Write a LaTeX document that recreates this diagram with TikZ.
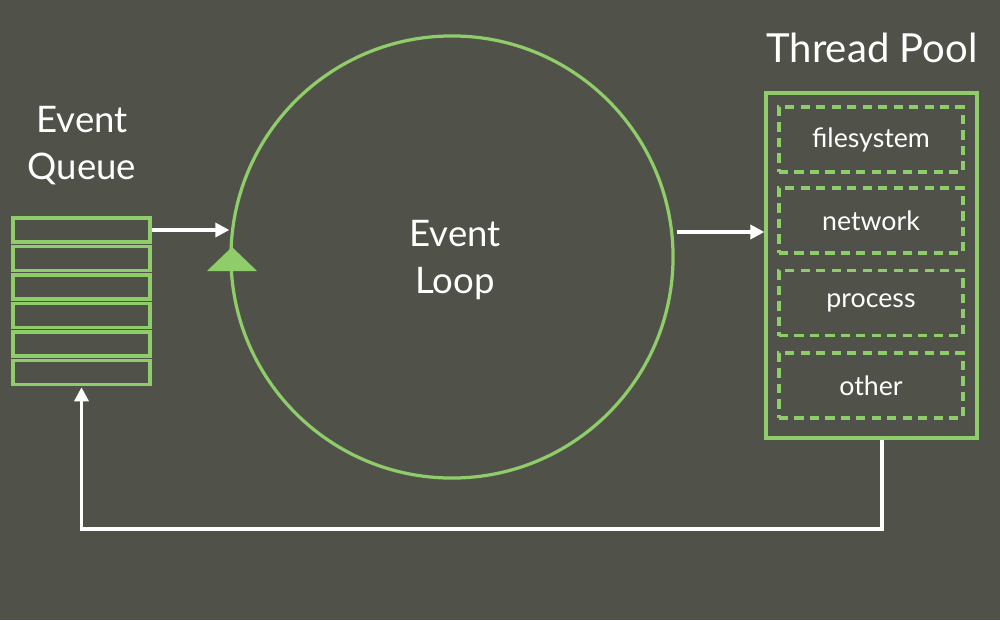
\documentclass[tikz,border=0pt]{standalone}
\usepackage{fontspec}
\setmainfont{Lato}
\usetikzlibrary{arrows.meta}
\definecolor{bg}{RGB}{80,82,73}
\definecolor{grn}{RGB}{143,204,106}
\tikzset{
  title/.style={text=white,font=\fontsize{26}{33.5}\selectfont,align=center,inner sep=0pt},
  lbl/.style={text=white,font=\fontsize{19}{22}\selectfont},
  qbox/.style={draw=grn,line width=2.3pt,minimum width=3.425cm,minimum height=0.6cm,inner sep=0pt},
  dbox/.style={draw=grn,line width=2.3pt,dash pattern=on 6.5pt off 4.5pt,minimum width=4.6cm,minimum height=1.625cm,inner sep=0pt},
  arr/.style={draw=white,line width=2.4pt,-{Triangle[length=10pt,width=10pt]}},
}
\begin{document}
\begin{tikzpicture}[x=0.025cm,y=-0.025cm]
\fill[bg] (0,0) rectangle (1000,620);
\useasboundingbox (0,0) rectangle (1000,620);
% titles
\node[title] (tq) at (82,146) {Event\\Queue};
\node[title,font=\fontsize{28.5}{34}\selectfont] (tp) at (872,48) {Thread Pool};
% event loop
\node[circle,draw=grn,line width=2.3pt,minimum size=11.05cm,inner sep=0pt] (loop) at (452,257) {};
\node[title] (tl) at (455,260) {Event\\Loop};
\fill[grn] (232,247) -- (257,271) -- (207,271) -- cycle;
% queue
\foreach \i/\y in {1/230,2/258.5,3/287,4/315.5,5/344,6/372.5}
  \node[qbox] (q\i) at (81.5,\y) {};
% thread pool
\node[draw=grn,line width=2.3pt,minimum width=5.275cm,minimum height=8.625cm,inner sep=0pt] (pool) at (871.5,265.5) {};
\node[dbox] (d1) at (871,139.5) {};
\node[dbox] (d2) at (871,220.5) {};
\node[dbox] (d3) at (871,303) {};
\node[dbox] (d4) at (871,385.5) {};
\node[lbl] at (d1) {filesystem};
\node[lbl] at (d2) {network};
\node[lbl] at (d3) {process};
\node[lbl] at (d4) {other};
% connectors
\coordinate (a1) at (677,232);
\coordinate (a2) at (763,232);
\coordinate (r1) at (882,529);
\draw[arr] (q1.east) -- (q1.east -| loop.west);
\draw[arr] (a1) -- (a2 -| pool.west);
\draw[arr] (pool.south -| r1) -- (r1) -| ([yshift=-0.03cm]q6.south);
\end{tikzpicture}
\end{document}
